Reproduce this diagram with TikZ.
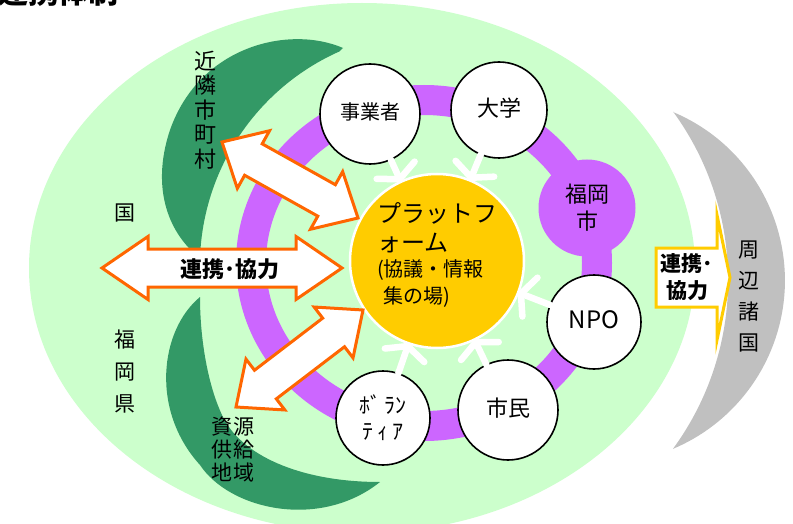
\documentclass[tikz,border=0pt]{standalone}
\usepackage{fontspec}
\setmainfont{Noto Sans CJK JP}
\usetikzlibrary{arrows.meta,calc}
\definecolor{lgreen}{HTML}{CCFFCC}
\definecolor{dgreen}{HTML}{339966}
\definecolor{purp}{HTML}{CC66FF}
\definecolor{gold}{HTML}{FFCC00}
\definecolor{orng}{HTML}{FF6600}
\definecolor{gry}{HTML}{C0C0C0}
\newcommand{\fs}[2]{\fontsize{#1}{#2}\selectfont}
% #1 start, #2 end, #3 head length, #4 head half width, #5 shaft half width
\newcommand{\blockarrow}[5]{%
  \path ($(#1)!#3!(#2)$) coordinate (ba1) ($(#2)!#3!(#1)$) coordinate (ba2);
  \draw[obox] (#1) -- ($(ba1)!#4!90:(#2)$) -- ($(ba1)!#5!90:(#2)$)
    -- ($(ba2)!#5!-90:(#1)$) -- ($(ba2)!#4!-90:(#1)$) -- (#2)
    -- ($(ba2)!#4!90:(#1)$) -- ($(ba2)!#5!90:(#1)$)
    -- ($(ba1)!#5!-90:(#2)$) -- ($(ba1)!#4!-90:(#2)$) -- cycle;
}
% white feed arrow from member #1 (radius #2) to the platform
\newcommand{\feedarrow}[2]{%
  \path ($(#1)!#2!(plat)$) coordinate (fs) ($(plat)!90pt!(#1)$) coordinate (ft);
  \draw[feedline] (fs) -- (ft);
  \draw[feedline] ($(ft)!23pt!65:(fs)$) -- (ft) -- ($(ft)!23pt!-65:(fs)$);
}
\begin{document}
\begin{tikzpicture}[x=1pt,y=-1pt,
  member/.style={circle,draw=black,line width=1.6pt,fill=white,minimum size=#1,inner sep=0pt,font=\fs{22}{27},align=center},
  feedline/.style={draw=white,line width=6.5pt,line join=round,line cap=round},
  obox/.style={fill=white,draw=orng,line width=3pt,line join=miter},
  vtext/.style={align=center,inner sep=0pt},
]
\useasboundingbox (0,0) rectangle (793,524);
\fill[white] (0,0) rectangle (793,524);

% title (cut off at top, as in the source)
\node[font=\fs{30}{30}\bfseries,anchor=base west,inner sep=0pt] (title) at (-2,4) {連携体制};

% big light green field
\fill[lgreen] (362,268) ellipse [x radius=333, y radius=265];

% dark green crescents
\fill[dgreen] (343,48) .. controls (290,25) and (200,45) .. (170,130)
  .. controls (150,190) and (170,235) .. (200,258)
  arc[start angle=182, end angle=246, radius=235] -- cycle;
\fill[dgreen] (200,297) .. controls (160,330) and (150,410) .. (200,465)
  .. controls (230,510) and (320,530) .. (380,482)
  .. controls (300,482) and (240,455) .. (222,415)
  .. controls (208,385) and (200,340) .. cycle;

% grey crescent
\fill[gry] (673,112) arc[start angle=-67.2, end angle=67.2, radius=182.7]
  arc[start angle=36.2, end angle=-36.2, radius=285.6] -- cycle;

% purple ring
\draw[purp,line width=30pt] (424,263) ellipse [x radius=173, y radius=163];

% platform
\node[circle,fill=gold,draw=white,line width=2.5pt,minimum size=174pt,inner sep=0pt] (plat) at (437,261) {};
\node[anchor=west,inner sep=0pt,font=\fs{24}{24}] (p1) at (377,213) {プラットフ};
\node[anchor=west,inner sep=0pt,font=\fs{24}{24}] (p2) at (377,243) {ォーム};
\node[anchor=west,inner sep=0pt,font=\fs{20}{20}] (p3) at (377,270) {(協議・情報};
\node[anchor=west,inner sep=0pt,font=\fs{20}{20}] (p4) at (377,297) {\hphantom{(}集の場)};

% members
\node[member=100pt,font=\fs{20}{24}] (jig) at (370,114) {\raisebox{5pt}{事業者}};
\node[member=96pt] (dai) at (499,110) {\raisebox{5pt}{大学}};
\node[circle,fill=purp,minimum size=97pt,inner sep=0pt,align=center,font=\fs{22}{27}] (fuk) at (587,208) {福岡\\市};
\node[member=94pt,font=\fs{24}{24}] (npo) at (594,322) {\raisebox{4pt}{NPO}};
\node[member=100pt] (shi) at (508,410) {\raisebox{5pt}{市民}};
\node[member=94pt,font=\fs{22}{26}] (vol) at (383,418) {ﾎﾞ\hspace{4pt}ﾗﾝ\\ﾃ\,ｨ\,ｱ};

% feed arrows into platform
\feedarrow{jig}{50pt}
\feedarrow{dai}{48pt}
\feedarrow{npo}{47pt}
\feedarrow{shi}{50pt}
\feedarrow{vol}{47pt}

% orange block arrows
\coordinate (hA) at (102,268);
\coordinate (hB) at (342,268);
\coordinate (uA) at (222,142);
\coordinate (uB) at (358,218);
\coordinate (lA) at (236,407);
\coordinate (lB) at (363,310);
\blockarrow{hA}{hB}{46pt}{31.5pt}{19pt}
\blockarrow{uA}{uB}{36pt}{33pt}{18pt}
\blockarrow{lA}{lB}{37pt}{32pt}{18pt}
\node[font=\fs{22}{22}\bfseries,inner sep=0pt] (coop) at (230,269) {連携･協力};

% yellow arrow to neighbouring countries
\draw[fill=white,draw=gold,line width=3pt,line join=miter]
  (656,248) -- (717,248) -- (717,215) -- (730,277.5) -- (717,340) -- (717,307) -- (656,307) -- cycle;
\node[font=\fs{21}{27}\bfseries,align=center,inner sep=0pt] (coop2) at (687,277) {連携･\\協力};

% region labels
\node[vtext,font=\fs{22}{24.5}] (kinrin) at (205,110) {近\\隣\\市\\町\\村};
\node[vtext,font=\fs{21}{21}] (kuni) at (125,213) {国};
\node[vtext,font=\fs{21}{32}] (ken) at (125,372) {福\\岡\\県};
\node[vtext,font=\fs{21}{23}] (shigen) at (233,450) {資\hspace{2pt}源\\供\hspace{2pt}給\\地\hspace{2pt}域};
\node[vtext,font=\fs{21}{31}] (shuhen) at (749,297) {周\\辺\\諸\\国};
\end{tikzpicture}
\end{document}
